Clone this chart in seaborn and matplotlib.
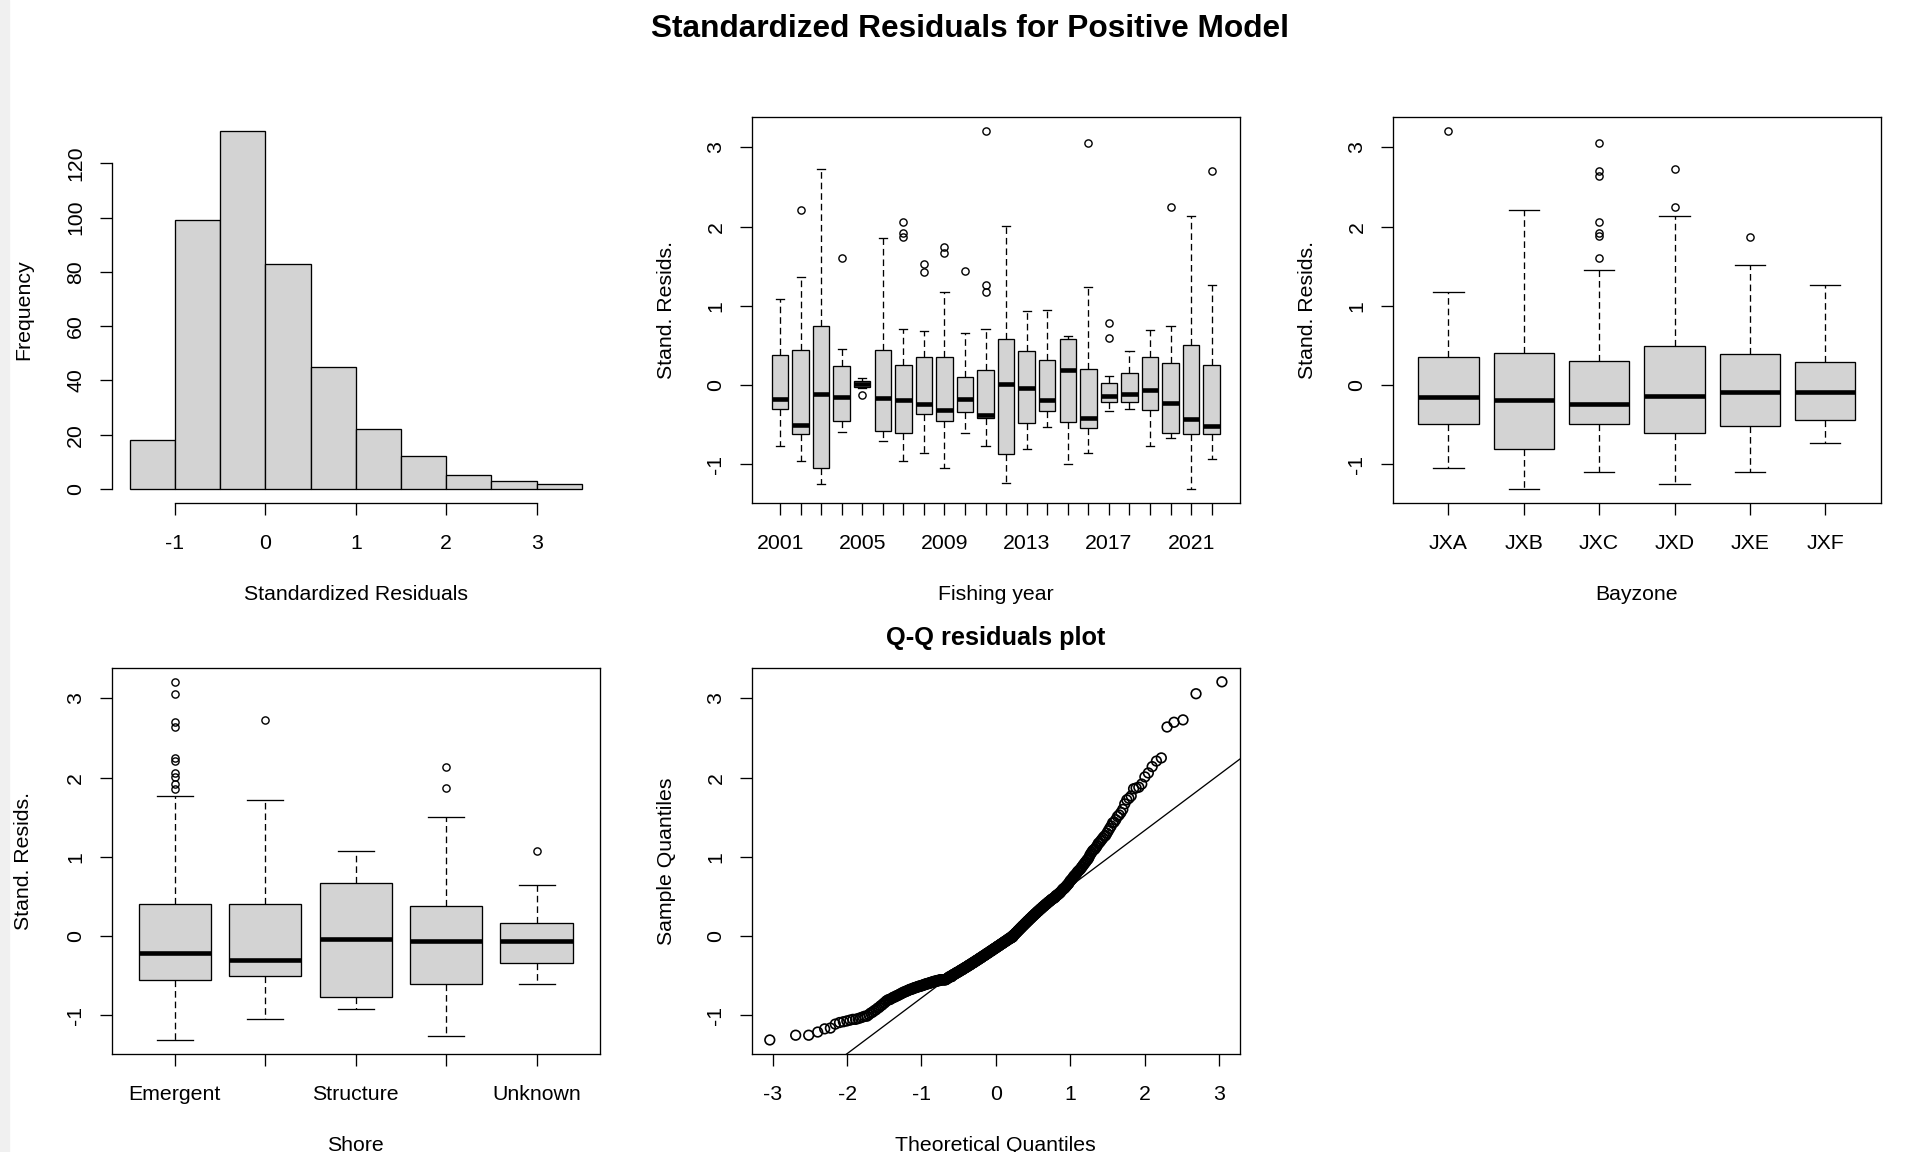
import numpy as np
import pandas as pd
import matplotlib
matplotlib.use("Agg")
import matplotlib.pyplot as plt
from matplotlib.patches import Rectangle
import seaborn as sns
from statistics import NormalDist

# ---- standardized residuals (sorted), as value / how many times it occurs ----
resid_value = [
    # (-1.5, -1]
    -1.31, -1.25, -1.21, -1.17, -1.16, -1.11, -1.09, -1.08, -1.07, -1.06, -1.05, -1.04, -1.03, -1.02, -1.01,
    # (-1, -0.5]
    -0.99, -0.97, -0.96, -0.94, -0.93, -0.91, -0.90, -0.88, -0.87, -0.85, -0.84, -0.82, -0.81,
    -0.80, -0.79, -0.78, -0.77, -0.76, -0.75, -0.74, -0.73, -0.72, -0.71, -0.70, -0.69, -0.68,
    -0.67, -0.66, -0.65, -0.64, -0.63, -0.62, -0.61, -0.60, -0.59, -0.58, -0.57, -0.56, -0.55,
    -0.54, -0.53, -0.52, -0.51,
    # (-0.5, 0]
    -0.49, -0.48, -0.47, -0.46, -0.45, -0.44, -0.43, -0.42, -0.41, -0.40, -0.39, -0.38, -0.37,
    -0.36, -0.35, -0.34, -0.33, -0.32, -0.31, -0.30, -0.29, -0.28, -0.27, -0.26, -0.25, -0.24,
    -0.23, -0.22, -0.21, -0.20, -0.19, -0.18, -0.17, -0.16, -0.15, -0.14, -0.13, -0.12, -0.11,
    -0.10, -0.09, -0.08, -0.07, -0.06, -0.05, -0.04, -0.03, -0.02, -0.01,
    # (0, 0.5]
    0.01, 0.02, 0.03, 0.04, 0.05, 0.06, 0.07, 0.08, 0.09, 0.10, 0.11, 0.12, 0.13, 0.14, 0.15,
    0.16, 0.17, 0.18, 0.19, 0.20, 0.21, 0.22, 0.23, 0.24, 0.25, 0.26, 0.27, 0.28, 0.29, 0.30,
    0.31, 0.32, 0.33, 0.34, 0.35, 0.36, 0.37, 0.38, 0.39, 0.40, 0.41, 0.42, 0.43, 0.44, 0.45,
    0.46, 0.47, 0.48, 0.49,
    # (0.5, 1]
    0.51, 0.52, 0.53, 0.54, 0.55, 0.56, 0.57, 0.58, 0.59, 0.60, 0.61, 0.62, 0.63, 0.64, 0.65,
    0.66, 0.67, 0.69, 0.70, 0.71, 0.72, 0.73, 0.75, 0.76, 0.77, 0.78, 0.79, 0.81, 0.82, 0.83,
    0.84, 0.85, 0.87, 0.88, 0.90, 0.91, 0.93, 0.94, 0.96, 0.97, 0.99,
    # (1, 1.5]
    1.02, 1.04, 1.06, 1.08, 1.09, 1.10, 1.12, 1.14, 1.17, 1.18, 1.20, 1.22, 1.24, 1.26, 1.27,
    1.30, 1.33, 1.36, 1.39, 1.43, 1.44, 1.47,
    # (1.5, 2]
    1.51, 1.53, 1.56, 1.60, 1.67, 1.72, 1.74, 1.77, 1.86, 1.87, 1.88, 1.92,
    # above 2
    2.01, 2.06, 2.14, 2.21, 2.25, 2.64, 2.70, 2.73, 3.06, 3.21,
]
resid_count = [
    1, 2, 1, 1, 1, 1, 1, 1, 1, 1, 2, 1, 1, 1, 2,
    1, 1, 1, 1, 1, 1, 1, 1, 1, 1, 1, 1, 1,
    2, 1, 1, 2, 1, 2, 1, 2, 1, 2, 2, 2, 2,
    3, 2, 3, 3, 4, 3, 3, 4, 4, 4, 5, 5, 11,
    2, 2, 2, 5,
    3, 3, 2, 3, 3, 2, 3, 3, 2, 3, 3, 2, 3,
    3, 2, 3, 3, 2, 3, 3, 2, 3, 3, 2, 3, 3,
    2, 3, 3, 2, 3, 3, 2, 3, 3, 2, 3, 3, 2,
    3, 3, 2, 3, 3, 2, 3, 3, 3, 3,
    2, 2, 1, 2, 2, 1, 2, 2, 1, 2, 2, 1, 2, 2, 1,
    2, 2, 1, 2, 2, 1, 2, 2, 1, 2, 2, 1, 2, 2, 1,
    2, 2, 1, 2, 2, 1, 2, 2, 1, 2, 2, 1, 2, 2, 1,
    2, 2, 2, 2,
    2, 2, 1, 2, 1, 1, 1, 1, 1, 2, 1, 1, 1, 1, 1,
    1, 1, 1, 1, 1, 1, 1, 1, 1, 1, 1, 1, 1, 1, 1,
    1, 1, 1, 1, 1, 1, 1, 1, 1, 1, 1,
    1, 1, 1, 1, 1, 1, 1, 1, 1, 1, 1, 1, 1, 1, 1,
    1, 1, 1, 1, 1, 1, 1,
    1, 1, 1, 1, 1, 1, 1, 1, 1, 1, 1, 1,
    1, 1, 1, 1, 1, 1, 1, 1, 1, 1,
]
hist_edges = [-1.5, -1.0, -0.5, 0.0, 0.5, 1.0, 1.5, 2.0, 2.5, 3.0, 3.5]

# ---- boxplot summaries by fishing year ----
years = list(range(2001, 2023))
year_lo = [-0.77, -0.96, -1.25, -0.59, -0.03, -0.71, -0.96, -0.85, -1.04, -0.61, -0.77,
           -1.23, -0.80, -0.53, -1.00, -0.85, -0.33, -0.30, -0.77, -0.67, -1.31, -0.93]
year_q1 = [-0.30, -0.62, -1.04, -0.45, -0.02, -0.58, -0.60, -0.37, -0.45, -0.34, -0.42,
           -0.87, -0.48, -0.33, -0.46, -0.54, -0.21, -0.21, -0.31, -0.61, -0.62, -0.62]
year_med = [-0.17, -0.50, -0.11, -0.15, 0.01, -0.16, -0.19, -0.24, -0.31, -0.17, -0.38,
            0.02, -0.03, -0.19, 0.19, -0.41, -0.14, -0.11, -0.06, -0.23, -0.43, -0.51]
year_q3 = [0.38, 0.44, 0.75, 0.24, 0.05, 0.44, 0.25, 0.35, 0.36, 0.10, 0.19,
           0.58, 0.43, 0.32, 0.58, 0.21, 0.03, 0.15, 0.35, 0.28, 0.51, 0.25]
year_hi = [1.09, 1.36, 2.73, 0.46, 0.09, 1.86, 0.71, 0.68, 1.17, 0.66, 0.71,
           2.01, 0.93, 0.95, 0.62, 1.24, 0.11, 0.43, 0.69, 0.75, 2.14, 1.27]
year_out = [[], [2.21], [], [1.60], [-0.13], [], [2.06, 1.92, 1.87], [1.53, 1.43],
            [1.74, 1.67], [1.44], [3.21, 1.26, 1.17], [], [], [], [], [3.06],
            [0.79, 0.59], [], [], [2.25], [], [2.70]]

# ---- by bayzone ----
zones = ["JXA", "JXB", "JXC", "JXD", "JXE", "JXF"]
zone_lo = [-1.05, -1.31, -1.10, -1.25, -1.10, -0.73]
zone_q1 = [-0.49, -0.81, -0.49, -0.61, -0.51, -0.44]
zone_med = [-0.15, -0.19, -0.24, -0.14, -0.09, -0.09]
zone_q3 = [0.35, 0.41, 0.30, 0.49, 0.39, 0.29]
zone_hi = [1.17, 2.21, 1.45, 2.14, 1.52, 1.26]
zone_out = [[3.21], [], [3.06, 2.70, 2.64, 2.06, 1.92, 1.88, 1.60], [2.73, 2.25], [1.87], []]

# ---- by shore type (2nd and 4th names are not printed in the original) ----
shore = ["Emergent", "", "Structure", "", "Unknown"]
shore_lo = [-1.31, -1.05, -0.92, -1.26, -0.61]
shore_q1 = [-0.55, -0.50, -0.77, -0.60, -0.34]
shore_med = [-0.21, -0.30, -0.03, -0.06, -0.06]
shore_q3 = [0.40, 0.41, 0.67, 0.38, 0.16]
shore_hi = [1.77, 1.72, 1.08, 1.50, 0.65]
shore_out = [[3.21, 3.06, 2.70, 2.64, 2.25, 2.21, 2.06, 2.01, 1.92, 1.86], [2.73], [],
             [2.14, 1.87], [1.08]]

assert len(resid_value) == len(resid_count)
resid = np.repeat(resid_value, resid_count)
n = len(resid)

plt.rcParams['font.family'] = ['Liberation Sans', 'DejaVu Sans']
plt.rcParams['font.size'] = 15.3
plt.rcParams['axes.unicode_minus'] = False
plt.rcParams['axes.linewidth'] = 0.95
for a in ('xtick', 'ytick'):
    plt.rcParams[a + '.major.size'] = 8.9
    plt.rcParams[a + '.major.width'] = 0.95
    plt.rcParams[a + '.labelsize'] = 15.3
plt.rcParams['xtick.major.pad'] = 13
plt.rcParams['ytick.major.pad'] = 10

GRAY = '#d3d3d3'
YLIM = (-1.491, 3.391)
XPAD, YPAD = 23, 22

fig = plt.figure(figsize=(19.16, 11.52), dpi=100)
fig.patches.append(Rectangle((0, 0), 9 / 1916, 1, transform=fig.transFigure,
                             color='#f0f0f0', zorder=-1))
fig.text(0.5063, 0.975, "Standardized Residuals for Positive Model", ha='center',
         va='center', fontsize=22.8, fontweight='bold')

lefts = [0.05825, 0.39233, 0.72688]
W, H = 0.25485, 0.33576
row1, row2 = 0.56311, 0.08481


def rotate_y(ax):
    ax.tick_params(axis='y', labelrotation=90)
    plt.setp(ax.get_yticklabels(), va='center')


def draw_box(ax, lo, q1, med, q3, hi, out, labels):
    stats = []
    for i in range(len(lo)):
        stats.append(dict(whislo=lo[i], q1=q1[i], med=med[i], q3=q3[i], whishi=hi[i],
                          fliers=out[i]))
    pos = list(range(1, len(lo) + 1))
    ax.bxp(stats, positions=pos, widths=0.8, capwidths=0.4, patch_artist=True,
           manage_ticks=False,
           boxprops=dict(facecolor=GRAY, edgecolor='black', linewidth=0.95),
           medianprops=dict(color='black', linewidth=3.3, solid_capstyle='butt'),
           whiskerprops=dict(color='black', linewidth=0.95, linestyle=(0, (5, 3))),
           capprops=dict(color='black', linewidth=0.95),
           flierprops=dict(marker='o', markerfacecolor='none', markeredgecolor='black',
                           markersize=5.2, markeredgewidth=1.0))
    k = len(lo)
    pad = k * 0.04
    ax.set_xlim(0.5 - pad, k + 0.5 + pad)
    ax.set_ylim(*YLIM)
    ax.set_xticks(pos)
    ax.set_xticklabels(labels)
    ax.set_yticks([-1, 0, 1, 2, 3])
    ax.set_ylabel("Stand. Resids.", labelpad=YPAD)
    rotate_y(ax)


# histogram
ax0 = fig.add_axes([lefts[0], row1, W, H])
sns.histplot(x=resid, bins=hist_edges, stat='count', color=GRAY, edgecolor='black',
             linewidth=0.95, alpha=1, ax=ax0)
ax0.set_xlim(-1.7, 3.7)
ax0.set_ylim(-5.28, 137.28)
ax0.set_xticks([-1, 0, 1, 2, 3])
ax0.set_yticks([0, 20, 40, 60, 80, 100, 120])
ax0.spines['top'].set_visible(False)
ax0.spines['right'].set_visible(False)
ax0.spines['left'].set_bounds(0, 120)
ax0.spines['bottom'].set_bounds(-1, 3)
ax0.set_xlabel("Standardized Residuals", labelpad=XPAD)
ax0.set_ylabel("Frequency", labelpad=YPAD + 2)
rotate_y(ax0)

# fishing year
ax1 = fig.add_axes([lefts[1], row1, W, H])
year_labels = [str(y) if (y - 2001) % 4 == 0 else "" for y in years]
draw_box(ax1, year_lo, year_q1, year_med, year_q3, year_hi, year_out, year_labels)
ax1.set_xlabel("Fishing year", labelpad=XPAD)

# bayzone
ax2 = fig.add_axes([lefts[2], row1, W, H])
draw_box(ax2, zone_lo, zone_q1, zone_med, zone_q3, zone_hi, zone_out, zones)
ax2.set_xlabel("Bayzone", labelpad=XPAD)

# shore
ax3 = fig.add_axes([lefts[0], row2, W, H])
draw_box(ax3, shore_lo, shore_q1, shore_med, shore_q3, shore_hi, shore_out, shore)
ax3.set_xlabel("Shore", labelpad=XPAD)
ax3.set_ylabel("Stand. Resids.", labelpad=YPAD + 2)

# Q-Q plot
ax4 = fig.add_axes([lefts[1], row2, W, H])
nd = NormalDist()
theo = np.array([nd.inv_cdf((i - 0.5) / n) for i in range(1, n + 1)])
qq = pd.DataFrame({'theo': theo, 'sample': np.sort(resid)})
sns.scatterplot(data=qq, x='theo', y='sample', ax=ax4, marker='o', s=48,
                facecolor='none', edgecolor='black', linewidth=1.2, legend=False)
q1, q3 = np.quantile(resid, [0.25, 0.75])
z1, z3 = nd.inv_cdf(0.25), nd.inv_cdf(0.75)
slope = (q3 - q1) / (z3 - z1)
ax4.axline((0, q1 - slope * z1), slope=slope, color='black', linewidth=0.95)
tmax = theo.max() * 1.08
ax4.set_xlim(-tmax, tmax)
ax4.set_ylim(*YLIM)
ax4.set_xticks([-3, -2, -1, 0, 1, 2, 3])
ax4.set_yticks([-1, 0, 1, 2, 3])
ax4.set_xlabel("Theoretical Quantiles", labelpad=XPAD)
ax4.set_ylabel("Sample Quantiles", labelpad=YPAD)
ax4.set_title("Q-Q residuals plot", fontsize=18.3, fontweight='bold', pad=16)
rotate_y(ax4)

fig.savefig("out.png", dpi=100)
